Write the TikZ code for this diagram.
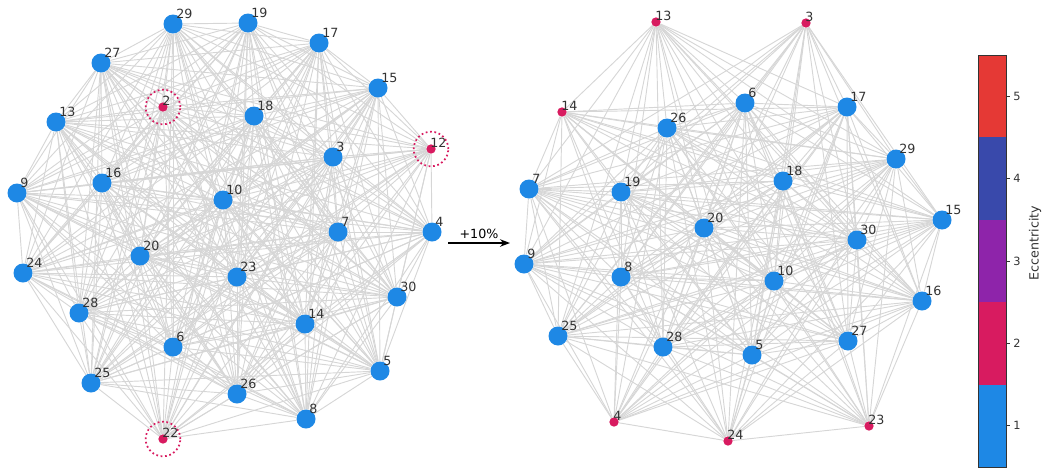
\documentclass[tikz,border=0pt]{standalone}
\usepackage{fontspec}
\setmainfont{DejaVu Sans}
\usetikzlibrary{backgrounds,arrows.meta}
\definecolor{eccA}{HTML}{1E88E5}
\definecolor{eccB}{HTML}{D81B60}
\definecolor{eccC}{HTML}{8E24AA}
\definecolor{eccD}{HTML}{3949AB}
\definecolor{eccE}{HTML}{E53935}
\definecolor{edgegray}{HTML}{D6D6D6}

\begin{document}
\begin{tikzpicture}[
x=0.75pt, y=-0.75pt,
ecc1/.style={
  circle,
  fill=eccA,
  draw=none,
  minimum size=14.25pt,
  inner sep=0pt
  },
ecc2/.style={
  circle,
  fill=eccB,
  draw=none,
  minimum size=7pt,
  inner sep=0pt
  },
lbl/.style={
  anchor=base west,
  inner sep=0pt,
  text=black!80,
  font=\fontsize{9.5}{11}\selectfont
  },
lbl1/.style={lbl, xshift=2.25pt, yshift=4.1pt},
lbl2/.style={lbl, xshift=-0.75pt, yshift=1.5pt},
edge/.style={draw=edgegray, line width=0.7pt},
halo/.style={draw=eccB, dotted, line width=1.3pt},
tick/.style={
  anchor=west,
  inner sep=0pt,
  text=black!80,
  font=\fontsize{8.5}{10}\selectfont
  },
>=Stealth
]
\useasboundingbox (0,0) rectangle (1042,468);

% graph before
\def\leftblue{29/173/24, 19/248/23, 17/319/43, 27/101/63, 15/378/88,
  18/254/116, 13/56/122, 3/333/157, 16/102/183, 9/17/193, 10/223/200,
  7/338/232, 4/432/232, 20/140/256, 24/23/273, 23/237/277, 30/397/297,
  28/79/313, 14/305/324, 6/173/347, 5/380/371, 25/91/383, 26/237/394,
  8/306/419}
\def\leftred{2/163/107, 12/431/149, 22/163/439}
\def\leftids{29,19,17,27,15,18,13,3,16,9,10,7,4,20,24,23,30,28,14,6,5,25,26,8,2,12,22}

\foreach \n/\x/\y in \leftblue
{\node[ecc1] (L\n) at (\x,\y) {};
 \node[lbl1] (L\n-t) at (L\n) {\n};}
\foreach \n/\x/\y in \leftred
{\node[ecc2] (L\n) at (\x,\y) {};
 \node[lbl2] (L\n-t) at (L\n) {\n};
 \draw[halo] (L\n) circle[radius=13pt];}

\begin{scope}[on background layer]
\foreach \a [count=\i] in \leftids
{\foreach \b [count=\j] in \leftids
  {\ifnum\i<\j \ifnum\i<25 \draw[edge] (L\a) -- (L\b); \fi\fi}
}
\end{scope}

% graph after
\def\rightblue{26/667/128, 6/745/103, 17/847/107, 29/896/159, 7/529/189,
  19/621/192, 18/783/181, 15/942/220, 20/704/228, 30/857/240, 9/524/264,
  8/621/277, 10/774/281, 16/922/301, 25/558/336, 28/663/347, 5/752/355,
  27/848/341}
\def\rightred{13/656/22, 3/806/23, 14/562/112, 4/614/422, 24/728/441, 23/869/426}
\def\rightids{26,6,17,29,7,19,18,15,20,30,9,8,10,16,25,28,5,27,13,3,14,4,24,23}

\foreach \n/\x/\y in \rightblue
{\node[ecc1] (R\n) at (\x,\y) {};
 \node[lbl1] (R\n-t) at (R\n) {\n};}
\foreach \n/\x/\y in \rightred
{\node[ecc2] (R\n) at (\x,\y) {};
 \node[lbl2] (R\n-t) at (R\n) {\n};}

\begin{scope}[on background layer]
\foreach \a [count=\i] in \rightids
{\foreach \b [count=\j] in \rightids
  {\ifnum\i<\j \ifnum\i<19 \draw[edge] (R\a) -- (R\b); \fi\fi}
}
\foreach \a/\b in {13/14, 4/24, 24/23}
  \draw[edge] (R\a) -- (R\b);
\end{scope}

% arrow between
\coordinate (gS) at (448,243);
\coordinate (gE) at (510,243);
\draw[->, line width=1pt] (gS) -- node[above, inner sep=3pt, font=\fontsize{9.5}{11}\selectfont] (gP) {+10\%} (gE);

% colour bar
\foreach \c [count=\k] in {eccA,eccB,eccC,eccD,eccE}
{\fill[\c] (978,{467-82.4*\k}) rectangle (1006,{467-82.4*(\k-1)});
 \draw[black!80, line width=0.5pt] (1006,{467-82.4*(\k-0.5)}) -- ++(4,0);
 \node[tick] (cb\k) at (1013,{467-82.4*(\k-0.5)}) {\k};}
\draw[black!80, line width=0.6pt] (978,55) rectangle (1006,467);
\node[rotate=90, inner sep=0pt, text=black!80, font=\fontsize{9.5}{11}\selectfont] (cbT) at (1035,243) {Eccentricity};
\end{tikzpicture}
\end{document}
